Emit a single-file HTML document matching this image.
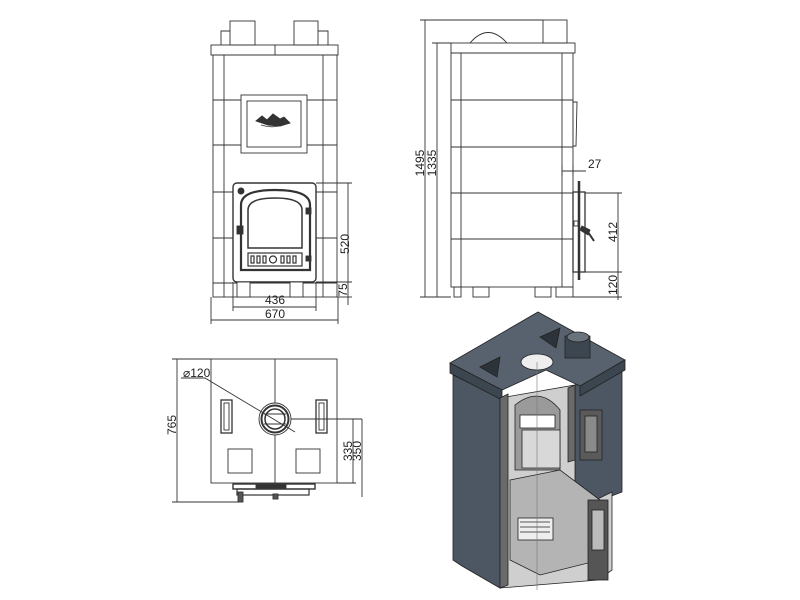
<!DOCTYPE html>
<html><head><meta charset="utf-8"><style>
html,body{margin:0;padding:0;background:#fff;}
svg{display:block;}
text{font-family:"Liberation Sans",Arial,sans-serif;font-size:12px;fill:#222;}
</style></head><body>
<svg width="800" height="600" viewBox="0 0 800 600" xmlns="http://www.w3.org/2000/svg">
<g fill="none" stroke="#333" stroke-width="0.9">
<!-- FRONT VIEW -->
<rect x="230" y="21" width="25" height="24"/><polyline points="230,31 221,31 221,45"/>
<rect x="294" y="21" width="24" height="24"/><polyline points="318,31 328,31 328,45"/>
<rect x="211" y="45" width="127" height="10"/><line x1="275" y1="45" x2="275" y2="55"/>
<rect x="213" y="55" width="124" height="242"/>
<line x1="224" y1="55" x2="224" y2="297"/><line x1="323" y1="55" x2="323" y2="297"/>
<line x1="213" y1="100" x2="337" y2="100"/><line x1="213" y1="145" x2="337" y2="145"/>
<line x1="213" y1="192" x2="337" y2="192"/><line x1="213" y1="238" x2="337" y2="238"/>
<line x1="213" y1="283" x2="337" y2="283"/>
<rect x="241" y="95" width="66" height="58" fill="#fff"/><rect x="247" y="101" width="54" height="46"/>
<path d="M256,121 l6,-5 l5,4 l6,-6 l7,5 l4,-2 l6,6 l-10,3 l-12,-1 z" fill="#333"/>
<path d="M261,125 q12,4 24,-1" />
<rect x="233" y="183" width="83" height="99" rx="4" fill="#fff" stroke-width="1.4"/>
<rect x="237" y="282" width="13" height="15" fill="#fff"/><rect x="290" y="282" width="13" height="15" fill="#fff"/>
<path d="M241,270 L241,205 Q241,190 275,190 Q310,190 310,205 L310,270 Z" stroke-width="2.2"/>
<path d="M248,248 L248,210 Q248,198 275,198 Q302,198 302,210 L302,248 Z" stroke-width="1.5"/>
<rect x="248" y="253" width="54" height="13" stroke-width="1.2"/>
<g stroke-width="1.2"><rect x="251" y="256" width="3" height="7"/><rect x="257" y="256" width="3" height="7"/><rect x="263" y="256" width="3" height="7"/><circle cx="273" cy="259.5" r="3.5"/><rect x="281" y="256" width="3" height="7"/><rect x="287" y="256" width="3" height="7"/><rect x="293" y="256" width="3" height="7"/></g>
<rect x="237" y="226" width="6" height="8" fill="#333"/><rect x="306" y="208" width="5" height="6" fill="#333"/><rect x="306" y="256" width="5" height="5" fill="#333"/>
<circle cx="241" cy="191" r="3" fill="#333"/>
<!-- front dims -->
<line x1="316" y1="183" x2="352" y2="183"/><line x1="316" y1="282" x2="352" y2="282"/><line x1="337" y1="297" x2="352" y2="297"/>
<line x1="348" y1="183" x2="348" y2="305"/>
<line x1="233" y1="282" x2="233" y2="311"/><line x1="316" y1="282" x2="316" y2="311"/>
<line x1="233" y1="307" x2="316" y2="307"/>
<line x1="211" y1="297" x2="211" y2="324"/><line x1="338" y1="297" x2="338" y2="324"/>
<line x1="211" y1="320" x2="338" y2="320"/>
<!-- SIDE VIEW -->
<rect x="543" y="20" width="24" height="23"/>
<path d="M470,43 Q488,22 507,43"/>
<rect x="451" y="43" width="124" height="10"/>
<rect x="451" y="53" width="122" height="234"/>
<line x1="461" y1="53" x2="461" y2="287"/><line x1="562" y1="53" x2="562" y2="287"/>
<line x1="451" y1="100" x2="573" y2="100"/><line x1="451" y1="147" x2="573" y2="147"/>
<line x1="451" y1="193" x2="573" y2="193"/><line x1="451" y1="239" x2="573" y2="239"/>
<polygon points="573,102 577,102 576,146 573,146"/>
<rect x="454" y="287" width="7" height="10"/><rect x="473" y="287" width="16" height="10"/><rect x="535" y="287" width="16" height="10"/><rect x="556" y="287" width="17" height="10"/>
<rect x="573" y="192" width="12" height="80" stroke-width="1.3"/>
<line x1="579" y1="181" x2="579" y2="280" stroke-width="2.5"/>
<path d="M582,226 l8,4 l-2,5 l-8,-5 z" fill="#333"/><line x1="588" y1="232" x2="594" y2="241" stroke-width="2"/>
<rect x="574" y="221" width="4" height="5"/>
<line x1="425" y1="20" x2="425" y2="297"/><line x1="420" y1="20" x2="543" y2="20"/>
<line x1="437" y1="43" x2="437" y2="297"/><line x1="432" y1="43" x2="451" y2="43"/>
<line x1="420" y1="297" x2="451" y2="297"/>
<line x1="562" y1="171" x2="586" y2="171"/><line x1="562" y1="165" x2="562" y2="176"/><line x1="573" y1="165" x2="573" y2="176"/>
<line x1="585" y1="193" x2="622" y2="193"/><line x1="585" y1="272" x2="622" y2="272"/><line x1="573" y1="297" x2="622" y2="297"/>
<line x1="618" y1="193" x2="618" y2="300"/>
<!-- TOP VIEW -->
<rect x="211" y="359" width="126" height="124"/>
<line x1="275" y1="359" x2="275" y2="483"/>
<rect x="221" y="400" width="11" height="33" stroke-width="1.3"/><rect x="224" y="403" width="5" height="27"/>
<rect x="316" y="400" width="11" height="33" stroke-width="1.3"/><rect x="319" y="403" width="5" height="27"/>
<rect x="228" y="449" width="24" height="24"/><rect x="296" y="449" width="24" height="24"/>
<circle cx="275" cy="419" r="16" fill="#fff"/><circle cx="275" cy="419" r="13.5" stroke-width="2"/><circle cx="275" cy="419" r="10" stroke-width="1.5"/>
<line x1="264" y1="414" x2="286" y2="414"/><line x1="264" y1="424" x2="286" y2="424"/>
<polyline points="181,378 205,378 295,432"/>
<line x1="291" y1="419" x2="362" y2="419"/>
<line x1="353" y1="419" x2="353" y2="483"/><line x1="362" y1="419" x2="362" y2="497"/>
<line x1="337" y1="483" x2="356" y2="483"/>
<line x1="177" y1="359" x2="177" y2="502"/><line x1="172" y1="359" x2="211" y2="359"/><line x1="172" y1="502" x2="240" y2="502"/>
<rect x="233" y="484" width="82" height="5" stroke-width="1.4"/><rect x="237" y="489" width="72" height="6" stroke-width="1.2"/>
<rect x="256" y="485" width="30" height="3" fill="#333"/>
<rect x="238" y="492" width="5" height="10" fill="#555"/><rect x="273" y="494" width="5" height="5" fill="#555"/>
</g>
<!-- texts -->
<text x="336" y="243" transform="rotate(-90 343 237)" text-anchor="middle">520</text>
<text x="343" y="294" transform="rotate(-90 343 290)" text-anchor="middle">75</text>
<text x="275" y="304" text-anchor="middle">436</text>
<text x="275" y="318" text-anchor="middle">670</text>
<text x="420" y="167" transform="rotate(-90 420 163)" text-anchor="middle">1495</text>
<text x="432" y="167" transform="rotate(-90 432 163)" text-anchor="middle">1335</text>
<text x="588" y="168">27</text>
<text x="613" y="236" transform="rotate(-90 613 232)" text-anchor="middle">412</text>
<text x="613" y="289" transform="rotate(-90 613 285)" text-anchor="middle">120</text>
<text x="183" y="377">⌀120</text>
<text x="172" y="429" transform="rotate(-90 172 425)" text-anchor="middle">765</text>
<text x="348" y="455" transform="rotate(-90 348 451)" text-anchor="middle">335</text>
<text x="357" y="455" transform="rotate(-90 357 451)" text-anchor="middle">350</text>
<!-- ISOMETRIC CUTAWAY -->
<g stroke="#222" stroke-width="0.8">
<polygon points="453,375 500,398 500,588 462,566 453,560" fill="#4d5764"/>
<polygon points="575,385 622,368 622,492 575,510" fill="#4d5764"/>
<polygon points="500,398 575,385 575,510 612,492 612,570 598,580 500,588" fill="#cfcfcf"/>
<polygon points="450,363 538,312 625,360 580,386 546,370 502,390" fill="#58626e"/>
<polygon points="450,363 502,390 502,400 450,373" fill="#3c4650"/>
<polygon points="580,386 625,360 625,370 580,396" fill="#3c4650"/>
<rect x="565" y="336" width="25" height="22" fill="#3c4650"/>
<ellipse cx="578" cy="337" rx="11" ry="5" fill="#6a737c"/>
<ellipse cx="537" cy="362" rx="16" ry="8" fill="#eee"/>
<polygon points="480,367 500,357 497,377" fill="#2c333a"/>
<polygon points="540,337 560,328 556,348" fill="#2c333a"/>
<polygon points="500,398 508,394 508,585 500,588" fill="#6a6a6a"/>
<polygon points="568,388 575,385 575,460 568,462" fill="#6a6a6a"/>
<path d="M515,405 Q540,385 560,410 L560,470 L515,470 Z" fill="#9a9a9a"/>
<rect x="520" y="415" width="35" height="13" fill="#fff"/>
<path d="M522,430 L560,430 L560,468 L522,468 Z" fill="#d8d8d8"/>
<path d="M510,480 L560,470 L600,500 L600,560 L540,575 L510,560 Z" fill="#b4b4b4"/>
<rect x="518" y="518" width="35" height="22" fill="#eee"/>
<line x1="520" y1="522" x2="550" y2="522"/><line x1="520" y1="527" x2="550" y2="527"/><line x1="520" y1="532" x2="550" y2="532"/>
<rect x="580" y="410" width="22" height="50" fill="#5a5a5a"/><rect x="585" y="416" width="12" height="36" fill="#8a8a8a"/>
<rect x="588" y="500" width="20" height="80" fill="#555"/><rect x="592" y="510" width="12" height="40" fill="#bbb"/>
</g>
<line x1="537" y1="362" x2="537" y2="590" stroke="#777" stroke-width="0.6"/>
</svg>
</body></html>
